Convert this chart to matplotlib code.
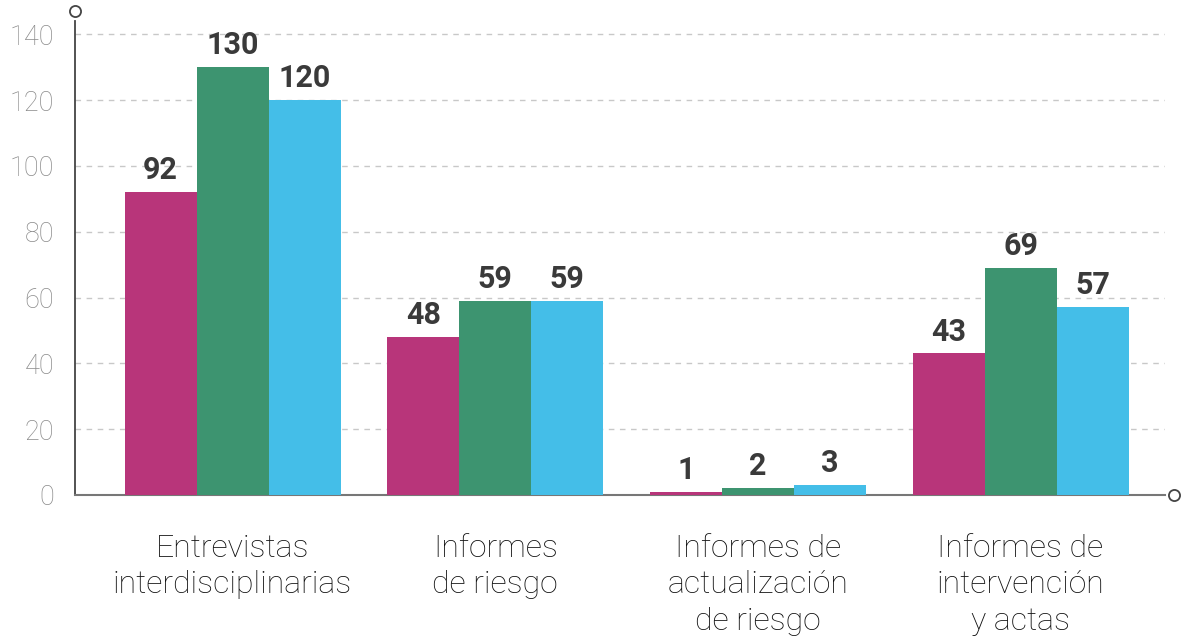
import matplotlib
matplotlib.use("Agg")
import matplotlib.pyplot as plt
import numpy as np

categories = ["Entrevistas\ninterdisciplinarias", "Informes\nde riesgo",
              "Informes de\nactualización\nde riesgo", "Informes de\nintervención\ny actas"]
series_a = [92, 48, 1, 43]
series_b = [130, 59, 2, 69]
series_c = [120, 59, 3, 57]
y_ticks = [0, 20, 40, 60, 80, 100, 120, 140]

colors = ["#B8357A", "#3D9470", "#44BEE8"]

fig = plt.figure(figsize=(11.83, 6.39), dpi=100)
ax = fig.add_axes([0.0634, 0.2254, 0.9214, 0.7416])

x = np.arange(len(categories))
w = 0.274
for i, (vals, c) in enumerate(zip([series_a, series_b, series_c], colors)):
    pos = x + (i - 1) * w
    ax.bar(pos, vals, width=w, color=c, zorder=3, linewidth=0)
    for p, v in zip(pos, vals):
        ax.annotate(str(v), (p, v), xytext=(0, 5), textcoords="offset points",
                    ha="center", va="bottom", fontsize=22, fontweight="bold",
                    color="#3a3a3a", family="Roboto")

ax.set_xlim(-0.6, 3.55)
ax.set_ylim(0, 144)
ax.set_yticks(y_ticks)
ax.set_yticklabels([str(t) for t in y_ticks], fontsize=19.5, color="#8a8a8a",
                   family="Roboto", fontweight="light")
ax.tick_params(axis="y", length=0, pad=15)
ax.set_xticks(x)
ax.set_xticklabels(categories, fontsize=23, color="#111111", family="Roboto",
                   fontweight="light", linespacing=1.32)
ax.tick_params(axis="x", length=0, pad=28)
ax.grid(axis="y", linestyle=(0, (4, 4)), color="#c8c8c8", linewidth=1, zorder=0)

for s in ["top", "right"]:
    ax.spines[s].set_visible(False)
ax.spines["left"].set_color("#444444")
ax.spines["bottom"].set_color("#777777")
ax.spines["left"].set_linewidth(1.3)
ax.spines["bottom"].set_linewidth(1.5)

ax.plot([-0.6], [147], marker="o", markersize=8, markerfacecolor="white",
        markeredgecolor="#444444", markeredgewidth=1.3, clip_on=False, zorder=5)
ax.plot([3.585], [0], marker="o", markersize=8, markerfacecolor="white",
        markeredgecolor="#444444", markeredgewidth=1.3, clip_on=False, zorder=5)

fig.savefig("out.png", dpi=100)
